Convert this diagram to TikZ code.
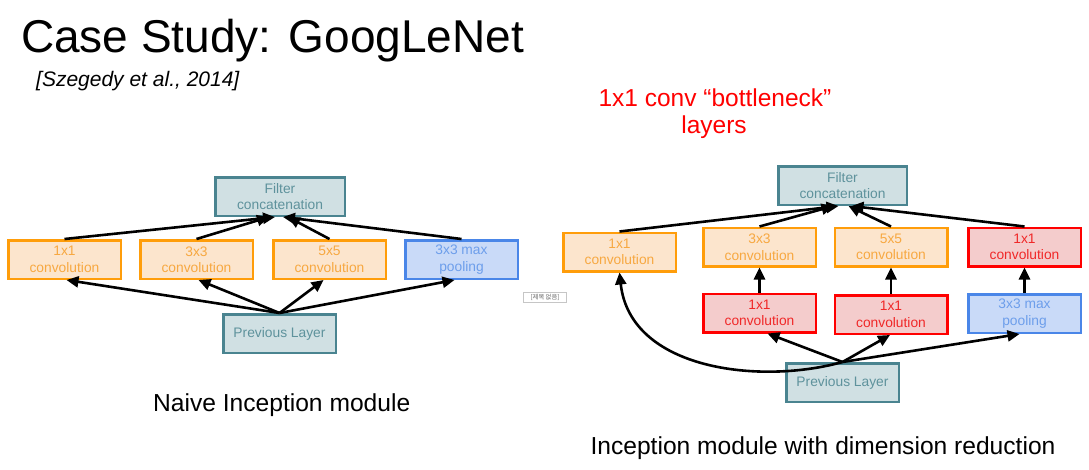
\documentclass[tikz,border=0pt]{standalone}
\usepackage{fontspec}
\setmainfont{Liberation Sans}
\newfontfamily\krfont{Noto Sans CJK KR}
\usetikzlibrary{arrows.meta,calc}
\definecolor{tealB}{HTML}{4A8490}
\definecolor{tealF}{HTML}{D0E0E3}
\definecolor{tealT}{HTML}{5E929C}
\definecolor{orB}{HTML}{FF9D0A}
\definecolor{orF}{HTML}{FCE5CD}
\definecolor{orT}{HTML}{F7A841}
\definecolor{blB}{HTML}{4A86E8}
\definecolor{blF}{HTML}{C9DAF8}
\definecolor{blT}{HTML}{6D9EEB}
\definecolor{rdB}{HTML}{FF0000}
\definecolor{rdF}{HTML}{F4CCCC}
\definecolor{rdT}{HTML}{F02828}
\begin{document}
\begin{tikzpicture}[x=1pt,y=-1pt,
  box/.style={draw, line width=2.5pt, minimum width=112.5pt, minimum height=38.5pt,
    inner sep=0pt, align=center, font=\fontsize{13.8}{16.5}\selectfont},
  tealbox/.style={box, draw=tealB, fill=tealF, text=tealT},
  orbox/.style={box, draw=orB, fill=orF, text=orT},
  blbox/.style={box, draw=blB, fill=blF, text=blT},
  rdbox/.style={box, draw=rdB, fill=rdF, text=rdT},
  arr/.style={line width=2.6pt, -{Triangle[length=12pt,width=11pt]}},
  lbl/.style={inner sep=0pt, anchor=base}]
\useasboundingbox[fill=white] (0,0) rectangle (1089,469);

% titles
\node[lbl, anchor=base west] (title) at (21,52) {\fontsize{46}{50}\selectfont Case Study: GoogLeNet};
\node[lbl, anchor=base west] (cite) at (36,86) {\fontsize{21}{24}\selectfont\itshape [Szegedy et al., 2014]};
\node[lbl, text=red] (bn1) at (715,106.7) {\fontsize{24.5}{27}\selectfont 1x1 conv “bottleneck”};
\node[lbl, text=red] (bn2) at (714,133) {\fontsize{24.5}{27}\selectfont layers};
\node[lbl] (capa) at (281.7,411.7) {\fontsize{24.6}{27}\selectfont Naive Inception module};
\node[lbl] (capb) at (823,454) {\fontsize{24.6}{27}\selectfont Inception module with dimension reduction};

% tag
\node[draw=gray!45, line width=0.6pt, minimum width=43pt, minimum height=10pt, inner sep=0pt,
  text=gray!80!black, font=\krfont\fontsize{6.3}{7}\selectfont] (tag) at (545,297.5) {[제목 없음]};

% naive module
\node[tealbox, minimum width=129.5pt] (fa) at (280,196.5) {Filter\\concatenation};
\node[orbox] (a1) at (64.5,259.5) {1x1\\convolution};
\node[orbox] (a2) at (196.5,259.5) {3x3\\convolution};
\node[orbox] (a3) at (329.5,259.5) {5x5\\convolution};
\node[blbox] (a4) at (461.5,259.5) {3x3 max\\pooling};
\node[tealbox] (pa) at (279.5,333.5) {Previous Layer};

\draw[arr] (a1.north) -- ($(fa.south)+(-5,0)$);
\draw[arr] (a2.north) -- ($(fa.south)+(-11,0)$);
\draw[arr] (a3.north) -- ($(fa.south)+(8,0)$);
\draw[arr] (a4.north) -- ($(fa.south)+(3,0)$);
\draw[arr] (pa.north) -- ($(a1.south)+(2,0)$);
\draw[arr] (pa.north) -- ($(a2.south)+(2,0)$);
\draw[arr] (pa.north) -- ($(a3.south)+(-6,0)$);
\draw[arr] (pa.north) -- ($(a4.south)+(-7,0)$);

% module with dimension reduction
\node[tealbox, minimum width=128.5pt] (fb) at (842.5,185.5) {Filter\\concatenation};
\node[orbox] (b1) at (619.5,252) {1x1\\convolution};
\node[orbox] (b2) at (759.5,247) {3x3\\convolution};
\node[orbox] (b3) at (891,247) {5x5\\convolution};
\node[rdbox] (b4) at (1024.5,247) {1x1\\convolution};
\node[rdbox] (c2) at (759.5,313) {1x1\\convolution};
\node[rdbox] (c3) at (891,314.5) {1x1\\convolution};
\node[blbox] (c4) at (1024.5,313.5) {3x3 max\\pooling};
\node[tealbox] (pb) at (842.5,382.5) {Previous Layer};

\draw[arr] (b1.north) -- ($(fb.south)+(-4,0)$);
\draw[arr] (b2.north) -- ($(fb.south)+(-9,0)$);
\draw[arr] (b3.north) -- ($(fb.south)+(6,0)$);
\draw[arr] (b4.north) -- ($(fb.south)+(9,0)$);
\draw[arr] (c2.north) -- (b2.south);
\draw[arr] (c3.north) -- (b3.south);
\draw[arr] (c4.north) -- (b4.south);
\draw[arr] (pb.north) -- ($(c2.south)+(8,0)$);
\draw[arr] (pb.north) -- ($(c3.south)+(-1,0)$);
\draw[arr] (pb.north) -- ($(c4.south)+(-5,0)$);
\draw[arr] (pb.north) .. controls (760,385) and (630,370) .. (b1.south);
\end{tikzpicture}
\end{document}
